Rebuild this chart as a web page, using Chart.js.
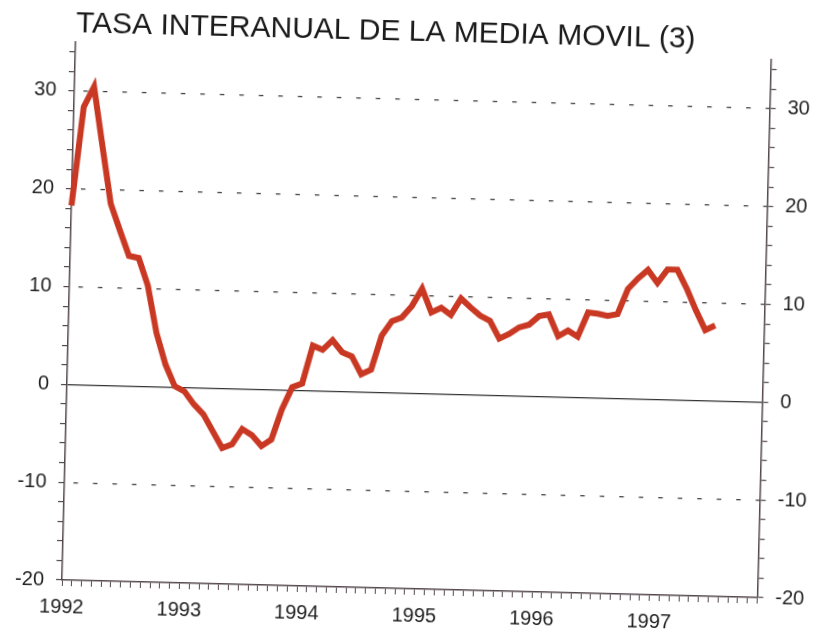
<!DOCTYPE html>
<html>
<head>
<meta charset="utf-8">
<script src="https://cdn.jsdelivr.net/npm/chart.js@4.4.1/dist/chart.umd.min.js"></script>
<style>
  html, body { margin: 0; padding: 0; background: #fff; overflow: hidden; }
  /* the scanned original sits slightly askew, so the whole chart is turned a little */
  #wrap { position: absolute; left: 0; top: 0; width: 818px; height: 636px;
          transform-origin: 62px 580px; transform: rotate(1.45deg); }
</style>
</head>
<body>
<div id="wrap"><canvas id="myChart"></canvas></div>
<script>
const years = ['1992', '1993', '1994', '1995', '1996', '1997'];
const months = ['01', '02', '03', '04', '05', '06', '07', '08', '09', '10', '11', '12'];

// tasa interanual de la media movil (3), monthly, Jan 1992 - Jul 1997
const rates = [
    18.3, 28.4, 30.5, 24.5, 18.6, 15.9, 13.3, 13.1, 10.3, 5.5, 2.3, 0.1,
    -0.4, -1.7, -2.7, -4.4, -6.1, -5.7, -4.1, -4.7, -5.8, -5.1, -2.0, 0.3,
    0.7, 4.6, 4.2, 5.2, 4.0, 3.6, 1.8, 2.3, 5.8, 7.3, 7.7, 8.9,
    10.7, 8.3, 8.8, 8.1, 9.8, 8.9, 8.1, 7.6, 5.8, 6.3, 7.0, 7.3,
    8.2, 8.4, 6.2, 6.8, 6.2, 8.7, 8.6, 8.4, 8.6, 11.2, 12.3, 13.2,
    11.9, 13.3, 13.3, 11.4, 9.2, 7.2, 7.7
];

const yTicks = [30, 20, 10, 0, -10, -20];

function createChart() {
    const labels = years.flatMap(y => months.map(m => y + '-' + m));
    const axisColor = '#54484f';
    const textColor = '#1f1f1f';
    const tickFont = { family: 'Liberation Sans', size: 20 };

    const gridColor = c => {
        const v = c.tick ? c.tick.value : null;
        if (v === 0) return '#333333';
        if (yTicks.includes(v) && v !== -20) return '#3c3c3c';
        return 'rgba(0,0,0,0)';
    };

    const yAxis = (position, width) => ({
        type: 'linear',
        position: position,
        min: -20,
        max: 35,
        afterFit: s => { s.width = width; },
        ticks: {
            stepSize: 2,
            includeBounds: false,
            autoSkip: false,
            padding: position === 'left' ? 12 : 12,
            color: textColor,
            font: tickFont,
            callback: v => yTicks.includes(v) ? v : ''
        },
        grid: {
            drawOnChartArea: position === 'left',
            color: gridColor,
            lineWidth: 1.2,
            tickColor: axisColor,
            tickLength: 6
        },
        border: {
            display: true,
            color: axisColor,
            width: 1.5,
            dash: c => (c.tick && c.tick.value === 0) ? [] : [4.5, 15],
            dashOffset: 11
        }
    });

    const data = {
        labels: labels,
        datasets: [{
            label: 'Tasa interanual',
            data: rates,
            fill: false,
            borderColor: '#c93823',
            borderWidth: 6,
            pointRadius: 0,
            tension: 0
        }]
    };

    const ctx = document.getElementById('myChart').getContext('2d');
    const config = {
        type: 'line',
        data: data,
        options: {
            responsive: true,
            maintainAspectRatio: false,
            animation: false,
            layout: { padding: 0 },
            plugins: {
                legend: { display: false },
                tooltip: { enabled: false },
                title: {
                    display: true,
                    text: 'TASA INTERANUAL DE LA MEDIA MOVIL (3)',
                    align: 'start',
                    fullSize: false,
                    padding: { top: 6, bottom: 0 },
                    font: { family: 'Liberation Sans', size: 30, weight: 'normal', lineHeight: 1.2 },
                    color: '#1a1a1a'
                }
            },
            scales: {
                x: {
                    offset: false,
                    afterFit: s => { s.height = 56; },
                    ticks: {
                        autoSkip: false,
                        maxRotation: 0,
                        padding: 9,
                        color: textColor,
                        font: tickFont,
                        callback: (v, i) => i % 12 === 0 ? labels[i].slice(0, 4) : ''
                    },
                    grid: {
                        drawOnChartArea: false,
                        color: axisColor,
                        tickColor: axisColor,
                        tickLength: 6
                    },
                    border: { color: axisColor, width: 1.5 }
                },
                y: yAxis('left', 62),
                y2: yAxis('right', 60.5)
            }
        }
    };

    new Chart(ctx, config);
}
createChart()
</script>
</body>
</html>
